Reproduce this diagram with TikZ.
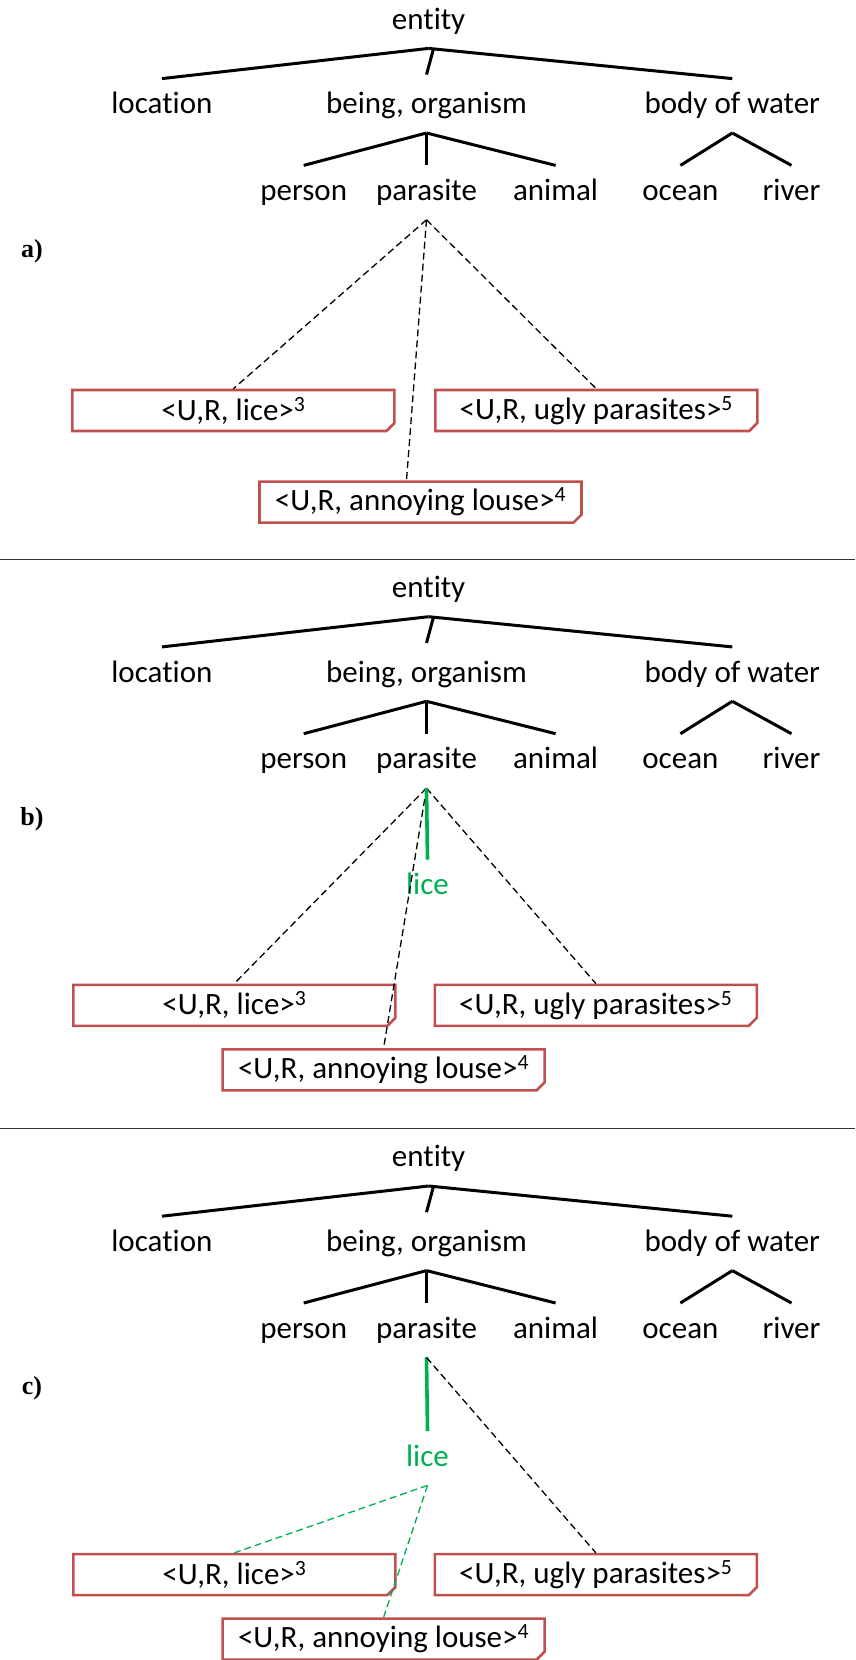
\documentclass[tikz,border=0pt]{standalone}
\usepackage{fontspec}
\setmainfont{Carlito}[Ligatures={NoCommon,NoContextual}, Contextuals=NoAlternate]
\newfontfamily\tagfont{Liberation Serif}
\usetikzlibrary{positioning,shapes.misc}
\definecolor{boxred}{HTML}{C0504D}
\definecolor{licegreen}{HTML}{00B050}

\newcommand{\wordtree}{%
  \path
  % 1st layer
  +(428.6,21.2)  node[word] (entity) {entity}
  % 2nd layer
  +(161.9,105.8) node[word] (location) {location}
  +(426.5,105.8) node[word] (being) {being, organism}
  +(732.3,105.8) node[word] (water) {body of water}
  % 3rd layer
  +(303.7,192.6) node[word] (person) {person}
  +(426.5,192.6) node[word] (parasite) {parasite}
  +(555.6,192.6) node[word] (animal) {animal}
  +(680.4,192.6) node[word] (ocean) {ocean}
  +(791.5,192.6) node[word] (river) {river};
  \draw[tree] (entity.south) -- (location.north);
  \draw[tree] ([xshift=5pt]entity.south) -- ([yshift=4pt]being.north);
  \draw[tree] (entity.south) -- (water.north);
  \draw[tree] (being.south) -- (person.north);
  \draw[tree] (being.south) -- (parasite.north);
  \draw[tree] (being.south) -- (animal.north);
  \draw[tree] (water.south) -- (ocean.north);
  \draw[tree] (water.south) -- (river.north);
}

\begin{document}
\begin{tikzpicture}[>=latex, x=1pt, y=-1pt,
    word/.style={font=\fontsize{31}{36}\selectfont, inner xsep=0pt, inner ysep=13pt,
      text height=22pt, text depth=6pt},
    fact/.style={shape=chamfered rectangle, chamfered rectangle corners=south east,
      chamfered rectangle xsep=4pt, chamfered rectangle ysep=4pt,
      draw=boxred, line width=2.6pt, minimum width=322pt, minimum height=41pt,
      inner sep=0pt, font=\fontsize{31}{36}\selectfont},
    tag/.style={font=\tagfont\bfseries\fontsize{26}{30}\selectfont, inner sep=0pt},
    tree/.style={line width=3pt},
    link/.style={line width=1.3pt, dash pattern=on 7pt off 4pt},
    hit/.style={draw=licegreen, line width=3.6pt},
    rule/.style={line width=0.9pt, black!80}]
  \useasboundingbox (0,0) rectangle (855,1660);

  % a)
  \begin{scope}[name prefix=a-]
    \wordtree
    \path
    +(32,250.8)    node[tag] (tag) {a)}
    +(233.4,410.5) node[fact] (lice3) {<U,R, lice>\textsuperscript{3}}
    +(596.3,410.5) node[fact] (ugly5) {<U,R, ugly parasites>\textsuperscript{5}}
    +(420.5,502.1) node[fact] (louse4) {<U,R, annoying louse>\textsuperscript{4}};
    \draw[link] (parasite.south) -- (lice3.north);
    \draw[link] (parasite.south) -- ([xshift=-14pt]louse4.north);
    \draw[link] (parasite.south) -- (ugly5.north);
    \draw[rule] (0,559.8) -- (855,559.8);
  \end{scope}

  % b)
  \begin{scope}[shift={(0,568.3)}, name prefix=b-]
    \wordtree
    \path
    +(32,250.8)    node[tag] (tag) {b)}
    +(427.5,318.5) node[word, text=licegreen] (lice) {lice}
    +(234.4,437)   node[fact] (lice3) {<U,R, lice>\textsuperscript{3}}
    +(595.8,437)   node[fact] (ugly5) {<U,R, ugly parasites>\textsuperscript{5}}
    +(383.6,501.5) node[fact] (louse4) {<U,R, annoying louse>\textsuperscript{4}};
    \draw[link] (parasite.south) -- (lice3.north);
    \draw[link] (parasite.south) -- (louse4.north);
    \draw[link] (parasite.south) -- (ugly5.north);
    \draw[hit] (parasite.south) -- (lice.north);
    \draw[rule] (0,559.8) -- (855,559.8);
  \end{scope}

  % c)
  \begin{scope}[shift={(0,1137.6)}, name prefix=c-]
    \wordtree
    \path
    +(32,250.8)    node[tag] (tag) {c)}
    +(427.5,320.6) node[word, text=licegreen] (lice) {lice}
    +(234.4,437)   node[fact] (lice3) {<U,R, lice>\textsuperscript{3}}
    +(595.8,437)   node[fact] (ugly5) {<U,R, ugly parasites>\textsuperscript{5}}
    +(383.6,501.5) node[fact] (louse4) {<U,R, annoying louse>\textsuperscript{4}};
    \draw[hit] (parasite.south) -- (lice.north);
    \draw[link, licegreen] (lice.south) -- (lice3.north);
    \draw[link, licegreen] (lice.south) -- (louse4.north);
    \draw[link] (parasite.south) -- (ugly5.north);
  \end{scope}
\end{tikzpicture}
\end{document}
